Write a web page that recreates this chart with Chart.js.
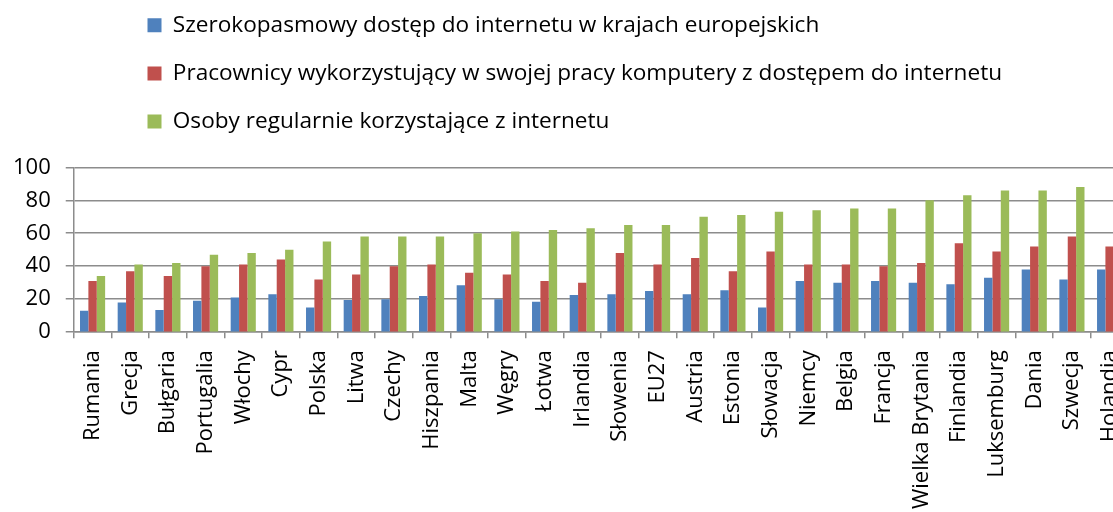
<!DOCTYPE html>
<html lang="pl">
<head>
<meta charset="utf-8">
<title>Dostęp do internetu w krajach UE</title>
<script src="https://cdn.jsdelivr.net/npm/chart.js@4/dist/chart.umd.min.js"></script>
<style>
    body { margin: 0; overflow: hidden; background: #fff; }
    #kontener { position: absolute; left: 0; top: 0; width: 1148px; height: 521px; }
</style>
</head>
<body>
<div id="kontener"><canvas id="wykres"></canvas></div>
<script>
// Dane
const kraje = ["Rumania", "Grecja", "Bułgaria", "Portugalia", "Włochy", "Cypr", "Polska", "Litwa",
    "Czechy", "Hiszpania", "Malta", "Węgry", "Łotwa", "Irlandia", "Słowenia", "EU27", "Austria",
    "Estonia", "Słowacja", "Niemcy", "Belgia", "Francja", "Wielka Brytania", "Finlandia",
    "Luksemburg", "Dania", "Szwecja", "Holandia"];

const szerokopasmowy = [13, 18, 13.5, 19, 21, 23, 15, 19.5, 20, 22, 28.5, 20, 18.5, 22.5, 23, 25, 23,
    25.5, 15, 31, 30, 31, 30, 29, 33, 38, 32, 38];
const pracownicy = [31, 37, 34, 40, 41, 44, 32, 35, 40, 41, 36, 35, 31, 30, 48, 41, 45, 37, 49, 41,
    41, 40, 42, 54, 49, 52, 58, 52];
const osoby = [34, 41, 42, 47, 48, 50, 55, 58, 58, 58, 60, 61, 62, 63, 65, 65, 70, 71, 73, 74, 75,
    75, 80, 83, 86, 86, 88, 89];

const etykiety = [
    "Szerokopasmowy dostęp do internetu w krajach europejskich",
    "Pracownicy wykorzystujący w swojej pracy komputery z dostępem do internetu",
    "Osoby regularnie korzystające z internetu"
];
const yTicks = [0, 20, 40, 60, 80, 100];

const szary = "#8c8c8c";

// legenda w jednej kolumnie, przesunieta w prawo
const przesunLegende = {
    id: "przesunLegende",
    afterLayout(chart) {
        const l = chart.legend;
        l.left += 124;
        l.right += 124;
        l.top -= 24.5;
        l.bottom -= 24.5;
    }
};

const ctx = document.getElementById("wykres").getContext("2d");

new Chart(ctx, {
    type: "bar",
    data: {
        labels: kraje,
        datasets: [
            { label: etykiety[0], data: szerokopasmowy, backgroundColor: "#4f81bd" },
            { label: etykiety[1], data: pracownicy, backgroundColor: "#c0504d" },
            { label: etykiety[2], data: osoby, backgroundColor: "#9bbb59" }
        ]
    },
    options: {
        responsive: true,
        maintainAspectRatio: false,
        animation: false,
        datasets: {
            bar: { categoryPercentage: 0.667, barPercentage: 1 }
        },
        layout: { padding: { top: 13, left: -2, right: 0, bottom: 0 } },
        plugins: {
            tooltip: { enabled: false },
            legend: {
                position: "top",
                align: "start",
                labels: {
                    boxWidth: 14,
                    boxHeight: 14,
                    padding: 25.5,
                    color: "#000",
                    font: { family: "'Open Sans'", size: 22.6 }
                }
            }
        },
        scales: {
            x: {
                grid: { drawOnChartArea: false, tickLength: 6, color: szary, lineWidth: 1.5 },
                border: { color: szary, width: 1.5 },
                ticks: {
                    minRotation: 90,
                    maxRotation: 90,
                    padding: 12,
                    autoSkip: false,
                    color: "#000",
                    font: { family: "'Open Sans'", size: 22 }
                }
            },
            y: {
                min: 0,
                max: 100,
                afterBuildTicks(axis) {
                    axis.ticks = yTicks.map(v => ({ value: v }));
                },
                grid: { tickLength: 8, color: szary, lineWidth: 1.5 },
                border: { color: szary, width: 1.5 },
                ticks: {
                    padding: 15,
                    color: "#000",
                    font: { family: "'Open Sans'", size: 22 }
                }
            }
        }
    },
    plugins: [przesunLegende]
});
</script>
</body>
</html>
